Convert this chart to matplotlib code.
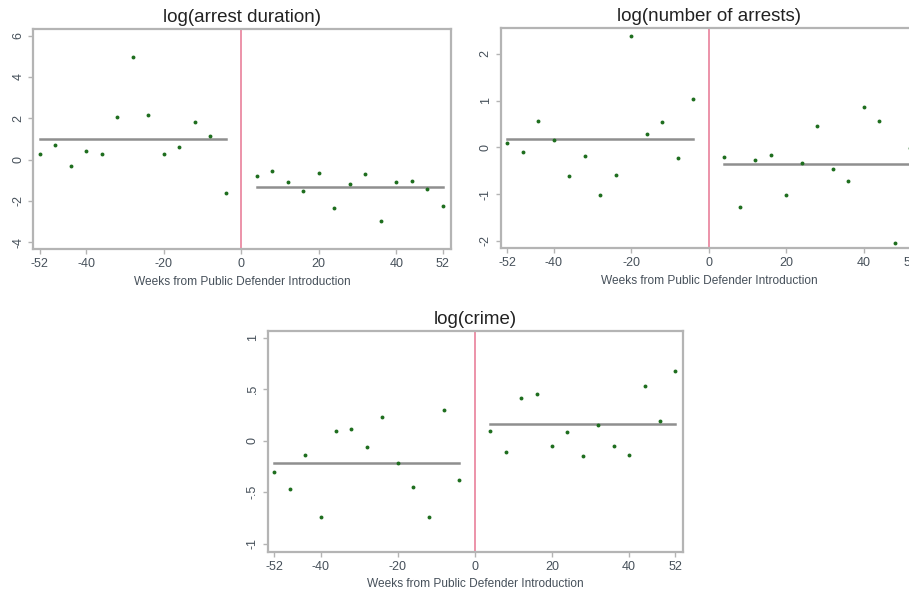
import numpy as np
import matplotlib
matplotlib.use("Agg")
import matplotlib.pyplot as plt

plt.rcParams['font.family'] = ['Liberation Sans', 'DejaVu Sans']

weeks_pre = [-52, -48, -44, -40, -36, -32, -28, -24, -20, -16, -12, -8, -4]
weeks_post = [4, 8, 12, 16, 20, 24, 28, 32, 36, 40, 44, 48, 52]

dur_pre = [0.27, 0.69, -0.29, 0.42, 0.29, 2.06, 4.97, 2.15, 0.27, 0.61, 1.84, 1.13, -1.60]
dur_post = [-0.79, -0.56, -1.08, -1.53, -0.63, -2.34, -1.16, -0.68, -2.95, -1.06, -1.03, -1.42, -2.26]

arr_pre = [0.09, -0.09, 0.56, 0.16, -0.61, -0.19, -1.03, -0.59, 2.39, 0.28, 0.54, -0.22, 1.04]
arr_post = [-0.21, -1.28, -0.27, -0.16, -1.03, -0.33, 0.46, -0.47, -0.73, 0.86, 0.57, -2.04, -0.02]

crime_pre = [-0.30, -0.47, -0.14, -0.74, 0.09, 0.11, -0.06, 0.23, -0.22, -0.45, -0.74, 0.30, -0.38]
crime_post = [0.09, -0.11, 0.41, 0.45, -0.05, 0.08, -0.15, 0.15, -0.05, -0.14, 0.53, 0.19, 0.68]

x_ticks = [-52, -40, -20, 0, 20, 40, 52]
titles = ["log(arrest duration)", "log(number of arrests)", "log(crime)"]
xlabel = "Weeks from Public Defender Introduction"

y_ticks_dur = [-4, -2, 0, 2, 4, 6]
y_labels_dur = ["-4", "-2", "0", "2", "4", "6"]
y_ticks_arr = [-2, -1, 0, 1, 2]
y_labels_arr = ["-2", "-1", "0", "1", "2"]
y_ticks_crime = [-1, -0.5, 0, 0.5, 1]
y_labels_crime = ["-1", "-.5", "0", ".5", "1"]

FRAME = "#b4b4b4"
GREEN = "#1e6e1e"
MEAN = "#8f8f8f"
RED = "#eb8aa3"
TXT = "#46505a"

fig = plt.figure(figsize=(9.09, 5.91), dpi=100)

def panel(rect, pre, post, title, yt, yl, ylim):
    ax = fig.add_axes(rect)
    ax.set_xlim(-53.7, 54.05)
    ax.set_ylim(*ylim)
    ax.axvline(0, color=RED, lw=1.3, zorder=1)
    ax.plot([weeks_pre[0], weeks_pre[-1]], [np.mean(pre)] * 2, color=MEAN, lw=1.8, zorder=2)
    ax.plot([weeks_post[0], weeks_post[-1]], [np.mean(post)] * 2, color=MEAN, lw=1.8, zorder=2)
    ax.plot(weeks_pre, pre, 'o', color=GREEN, ms=2.8, mew=0, zorder=3)
    ax.plot(weeks_post, post, 'o', color=GREEN, ms=2.8, mew=0, zorder=3)
    ax.set_xticks(x_ticks)
    ax.set_xticklabels([str(t) for t in x_ticks])
    ax.set_yticks(yt)
    ax.set_yticklabels(yl, rotation=90, va='center')
    ax.tick_params(axis='both', colors=FRAME, labelcolor=TXT, labelsize=9,
                   length=3.5, width=1, pad=3)
    for s in ax.spines.values():
        s.set_color(FRAME)
        s.set_linewidth(1.6)
    ax.set_title(title, fontsize=13.5, color="#222222", pad=5)
    ax.set_xlabel(xlabel, fontsize=8.6, color=TXT, labelpad=4)
    return ax

panel([0.0366, 0.5782, 0.4592, 0.3723], dur_pre, dur_post, titles[0],
      y_ticks_dur, y_labels_dur, (-4.34, 6.31))
panel([0.5508, 0.5799, 0.4592, 0.3723], arr_pre, arr_post, titles[1],
      y_ticks_arr, y_labels_arr, (-2.16, 2.55))
panel([0.2945, 0.0665, 0.4572, 0.3734], crime_pre, crime_post, titles[2],
      y_ticks_crime, y_labels_crime, (-1.076, 1.063))

fig.savefig("out.png", dpi=100)
